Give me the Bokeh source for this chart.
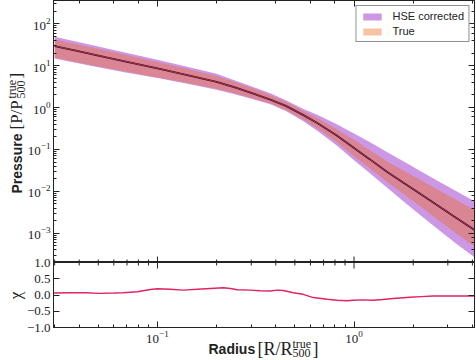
import math
from bokeh.plotting import figure
from bokeh.layouts import column, row
from bokeh.models import (LogAxis, LinearAxis, Legend, LegendItem, Label, FixedTicker,
                          CustomJSTickFormatter, Range1d)
from bokeh.embed import file_html
from bokeh.resources import INLINE

# ---- data ----
radius = [0.03, 0.04, 0.05, 0.07, 0.1, 0.14, 0.2, 0.25, 0.3, 0.375, 0.45, 0.553, 0.65,
          0.817, 1.0, 1.2, 1.47, 1.8, 2.16, 2.7, 3.3, 4.1]
p_true = [29.5, 22.0, 17.5, 12.4, 8.61, 6.05, 4.12, 2.98, 2.25, 1.55, 1.10, 0.66, 0.43,
          0.215, 0.108, 0.0587, 0.0295, 0.0157, 0.00891, 0.00441, 0.00233, 0.00119]
hse_hi = [49.0, 36.5, 28.7, 20.1, 13.8, 9.59, 6.38, 4.35, 3.25, 2.20, 1.50, 0.93, 0.67,
          0.40, 0.242, 0.151, 0.0871, 0.0509, 0.0309, 0.0171, 0.01016, 0.00583]
hse_lo = [14.8, 11.3, 9.18, 6.82, 5.07, 3.73, 2.68, 2.05, 1.62, 1.20, 0.83, 0.47, 0.28,
          0.125, 0.0555, 0.0275, 0.0123, 0.00558, 0.00275, 0.001186, 0.000571, 0.000267]
true_hi = [42.7, 31.8, 25.3, 17.9, 12.3, 8.55, 5.69, 4.00, 2.98, 2.00, 1.38, 0.83, 0.56,
           0.305, 0.1714, 0.0975, 0.0525, 0.0307, 0.01905, 0.01057, 0.00627, 0.0036]
true_lo = [15.5, 11.8, 9.62, 7.14, 5.19, 3.91, 2.83, 2.17, 1.70, 1.26, 0.88, 0.52, 0.32,
           0.148, 0.0682, 0.0354, 0.0170, 0.00845, 0.00447, 0.00201, 0.000993, 0.000474]

chi_r = [0.0296, 0.036, 0.043, 0.051, 0.06, 0.067, 0.079, 0.092, 0.1, 0.116, 0.135, 0.16,
         0.186, 0.216, 0.235, 0.255, 0.297, 0.333, 0.375, 0.407, 0.437, 0.49, 0.551, 0.62,
         0.73, 0.82, 0.92, 0.99, 1.1, 1.25, 1.4, 1.58, 1.92, 2.2, 2.52, 3.0, 3.5, 4.1]
chi = [0.06, 0.07, 0.07, 0.05, 0.06, 0.07, 0.10, 0.17, 0.19, 0.18, 0.15, 0.18,
       0.20, 0.22, 0.20, 0.16, 0.15, 0.13, 0.12, 0.15, 0.14, 0.07, 0.02, -0.08,
       -0.13, -0.16, -0.18, -0.16, -0.15, -0.16, -0.14, -0.11, -0.07, -0.05, -0.03, -0.03, -0.03, -0.03]
chi_ticks = [-1.0, -0.5, 0.0, 0.5, 1.0]

SERIF = "Liberation Serif"
SANS = "Liberation Sans"
INK = "#222222"

XR = (0.0296, 4.1)
YR = (2e-4, 360)
COL_X = 23          # page x where the plot column starts
FRAME_X = 53        # page x of the plot frames' left edge
STRIP = 40          # width of the (transparent) y-label strip, overlapping the column
PW = 476 - COL_X    # width of the plot column
LEFT = FRAME_X - COL_X
OVER = 10

x_major = [0.1, 1.0]
x_minor = [k * 10.0 ** e for e in (-2, -1, 0) for k in range(2, 10) if XR[0] <= k * 10.0 ** e <= XR[1]]


def style(ax, labels=True, minor=True):
    ax.major_tick_in = 6
    ax.major_tick_out = 0
    ax.minor_tick_in = 3 if minor else 0
    ax.minor_tick_out = 0
    ax.axis_line_color = INK
    ax.major_tick_line_color = INK
    ax.minor_tick_line_color = INK
    if labels:
        ax.major_label_text_font = SERIF
        ax.major_label_text_font_size = "13px"
        ax.major_label_text_color = INK
        ax.major_label_standoff = 3
    else:
        ax.formatter = CustomJSTickFormatter(code="return '';")
        ax.major_label_standoff = 0


def lab(fig, x, y, text, font, size, bold=False, angle=0.0, align="left"):
    fig.add_layout(Label(x=x, y=y, x_units="screen", y_units="screen", angle=angle, text=text,
                         text_font=font, text_font_size=size,
                         text_font_style="bold" if bold else "normal",
                         text_color=INK, text_baseline="alphabetic", text_align=align))


def strip(w, h):
    s = figure(width=w, height=h, x_range=Range1d(0, 1), y_range=Range1d(0, 1),
               output_backend="svg", toolbar_location=None,
               min_border_left=0, min_border_right=0, min_border_top=0, min_border_bottom=0)
    s.axis.visible = False
    s.xgrid.visible = False
    s.ygrid.visible = False
    s.outline_line_color = None
    s.background_fill_alpha = 0
    s.border_fill_alpha = 0
    return s


# ---- top panel ----
p = figure(width=PW, height=262, x_axis_type="log", y_axis_type="log",
           x_range=Range1d(*XR), y_range=Range1d(*YR),
           output_backend="svg", toolbar_location=None,
           min_border_left=LEFT, min_border_right=2, min_border_top=0, min_border_bottom=0)
p.xgrid.visible = False
p.ygrid.visible = False
p.outline_line_color = INK
p.border_fill_alpha = 0
p.xaxis.visible = False

r_hse = p.varea(x=radius, y1=hse_lo, y2=hse_hi, fill_color="#9932cc", fill_alpha=0.5)
r_true = p.varea(x=radius, y1=true_lo, y2=true_hi, fill_color="#ee6a1a", fill_alpha=0.4)
p.line(radius, p_true, line_color="#2a0f55", line_width=1.8)
p.line(radius, p_true, line_color="#b8321c", line_width=1.0)

# inward ticks on the shared edge
p.ray(x=x_major, y=[YR[0]] * len(x_major), length=6, angle=math.pi / 2, length_units="screen",
      line_color=INK, line_width=1)
p.ray(x=x_minor, y=[YR[0]] * len(x_minor), length=3, angle=math.pi / 2, length_units="screen",
      line_color=INK, line_width=1)

style(p.yaxis[0], labels=True)
ax_r = LogAxis(); style(ax_r, labels=False); p.add_layout(ax_r, "right")
ax_t = LogAxis(); style(ax_t, labels=False); p.add_layout(ax_t, "above")

legend = Legend(items=[LegendItem(label="HSE corrected", renderers=[r_hse]),
                       LegendItem(label="True", renderers=[r_true])],
                location="top_right")
legend.label_text_font = SANS
legend.label_text_font_size = "11px"
legend.label_text_color = INK
legend.glyph_width = 23
legend.glyph_height = 9
legend.label_height = 11
legend.label_standoff = 9
legend.spacing = 3
legend.padding = 4
legend.margin = 5
legend.border_line_color = INK
legend.border_line_width = 1
legend.background_fill_alpha = 1
p.add_layout(legend, "center")

# ---- bottom panel ----
q = figure(width=PW, height=103, x_axis_type="log",
           x_range=p.x_range, y_range=Range1d(-1, 1),
           output_backend="svg", toolbar_location=None,
           min_border_left=LEFT, min_border_right=2, min_border_top=OVER, min_border_bottom=28)
q.xgrid.visible = False
q.ygrid.visible = False
q.outline_line_color = INK
q.background_fill_alpha = 0
q.border_fill_alpha = 0
q.styles = {"margin-top": "-%dpx" % OVER}
q.line(chi_r, chi, line_color="#e0245e", line_width=1.5)

q.ray(x=x_major, y=[1.0] * len(x_major), length=6, angle=-math.pi / 2, length_units="screen",
      line_color=INK, line_width=1)
q.ray(x=x_minor, y=[1.0] * len(x_minor), length=3, angle=-math.pi / 2, length_units="screen",
      line_color=INK, line_width=1)

style(q.xaxis[0], labels=True)
style(q.yaxis[0], labels=True, minor=False)
q.yaxis[0].ticker = FixedTicker(ticks=chi_ticks)
q.yaxis[0].formatter = CustomJSTickFormatter(
    code="return (tick < 0 ? '\\u2212' : '') + Math.abs(tick).toFixed(1);")
ax_r2 = LinearAxis(ticker=FixedTicker(ticks=chi_ticks)); style(ax_r2, labels=False, minor=False)
q.add_layout(ax_r2, "right")

# ---- x-label strip (overlaps the bottom of q, transparent; its frame aligns with the plot frames) ----
xs = strip(PW, 30)
xs.styles = {"margin-top": "-25px"}
xb = 12
lab(xs, 208 - FRAME_X, xb, "Radius", SANS, "14px", bold=True)
lab(xs, 257 - FRAME_X, xb, "[R/R", SERIF, "18px")
lab(xs, 292 - FRAME_X, xb + 5, "true", SERIF, "12px")
lab(xs, 292 - FRAME_X, xb - 4, "500", SERIF, "12px")
lab(xs, 312 - FRAME_X, xb, "]", SERIF, "18px")

# ---- y-label strip (page x 0..40, the plot column overlaps its right part) ----
ys = strip(STRIP, 360)
ang = math.pi / 2
yb = 16
lab(ys, yb, 360 - 193, "Pressure", SANS, "14px", bold=True, angle=ang)
lab(ys, yb, 360 - 129, "[P/P", SERIF, "17px", angle=ang)
lab(ys, yb - 4.5, 360 - 98, "true", SERIF, "12px", angle=ang)
lab(ys, yb + 4, 360 - 98, "500", SERIF, "12px", angle=ang)
lab(ys, yb, 360 - 78, "]", SERIF, "17px", angle=ang)
lab(ys, 15, 360 - 295, "\u03c7", SERIF, "17px", angle=ang, align="center")

col = column(p, q, xs, spacing=0)
col.styles = {"margin-left": "-%dpx" % (STRIP - COL_X)}
layout = row(ys, col, spacing=0)
open("out.html", "w").write(file_html(layout, INLINE))
